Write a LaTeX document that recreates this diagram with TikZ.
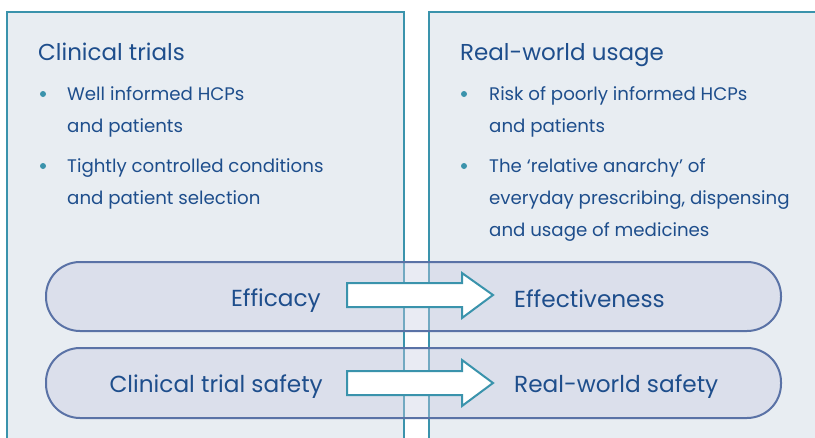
\documentclass[tikz,border=0pt]{standalone}
\usepackage{fontspec}
\setmainfont{Poppins}
\definecolor{panelfill}{RGB}{232,237,242}
\definecolor{panelline}{RGB}{58,147,172}
\definecolor{pillfill}{RGB}{200,204,226}
\definecolor{pillline}{RGB}{90,114,166}
\definecolor{ink}{RGB}{30,78,140}
\begin{document}
\begin{tikzpicture}[x=1pt,y=-1pt,
  panel/.style={draw=panelline, line width=2pt, fill=panelfill},
  pill/.style={draw=pillline, line width=2pt, fill=pillfill, fill opacity=0.4, rounded corners=34pt},
  shiftarrow/.style={draw=panelline, line width=2pt, fill=white, line join=miter},
  heading/.style={anchor=base west, inner sep=0, text=ink, font=\fontsize{23}{23}\selectfont},
  item/.style={anchor=base west, inner sep=0, text=ink, font=\fontsize{18.2}{18.2}\selectfont},
  pilltext/.style={inner sep=0, text=ink, font=\fontsize{23.2}{23.2}\selectfont},
  dot/.style={circle, fill=panelline, inner sep=0, minimum size=6pt},
]
\useasboundingbox (0,0) rectangle (815,437);
\clip (0,0) rectangle (815,437);

% the two background panels
\path[panel] (7,12) rectangle (404,460);
\path[panel] (429,12) rectangle (840,460);

% left panel text
\node[heading] (ctTitle) at (38,60) {Clinical trials};
\node[dot] (ctDotA) at (43,94) {};
\node[item] (ctA1) at (67,100) {Well informed HCPs};
\node[item] (ctA2) at (67,132) {and patients};
\node[dot] (ctDotB) at (43,166) {};
\node[item] (ctB1) at (67,172) {Tightly controlled conditions};
\node[item] (ctB2) at (67,204) {and patient selection};

% right panel text
\node[heading] (rwTitle) at (460,60) {Real-world usage};
\node[dot] (rwDotA) at (464,94) {};
\node[item] (rwA1) at (489,100) {Risk of poorly informed HCPs};
\node[item] (rwA2) at (489,132) {and patients};
\node[dot] (rwDotB) at (464,166) {};
\node[item] (rwB1) at (489,172) {The ‘relative anarchy’ of};
\node[item] (rwB2) at (489,204) {everyday prescribing, dispensing};
\node[item] (rwB3) at (489,236) {and usage of medicines};

% translucent pills spanning both panels
\path[pill] (46,262) rectangle (781,331);
\path[pill] (46,348) rectangle (781,418);

% block arrows
\draw[shiftarrow] (347,283) -- (462,283) -- (462,273) -- (493,295) -- (462,318) -- (462,307) -- (347,307) -- cycle;
\draw[shiftarrow] (347,371) -- (462,371) -- (462,360) -- (493,383) -- (462,406) -- (462,395) -- (347,395) -- cycle;

% pill labels
\node[pilltext, anchor=base east] (efficacy) at (321,306) {Efficacy};
\node[pilltext, anchor=base west] (effectiveness) at (514,307) {Effectiveness};
\node[pilltext, anchor=base east] (ctSafety) at (323,392) {Clinical trial safety};
\node[pilltext, anchor=base west] (rwSafety) at (514,392) {Real-world safety};
\end{tikzpicture}
\end{document}
